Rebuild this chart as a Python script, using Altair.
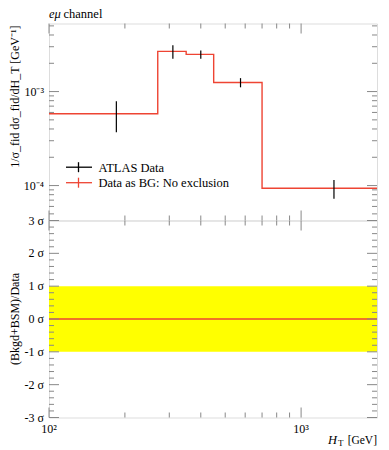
import altair as alt
import pandas as pd

# ---------------- data ----------------
edges = [100, 270, 350, 450, 700, 2000]
centers = [185, 310, 400, 575, 1350]
data_vals = [5.8e-4, 2.68e-3, 2.49e-3, 1.25e-3, 9.36e-5]
data_errs = [2.1e-4, 0.44e-3, 0.25e-3, 0.14e-3, 0.21e-4]
bg_vals = [5.8e-4, 2.68e-3, 2.49e-3, 1.25e-3, 9.36e-5]
ratio_vals = [0, 0, 0, 0, 0]
band_lo = [-1]
band_hi = [1]

x_major = [100, 1000]
x_major_labels = ["10²", "10³"]
x_minor = [200, 300, 400, 500, 600, 700, 800, 900]
ytop_major = [1e-4, 1e-3]
ytop_major_labels = ["10⁻⁴", "10⁻³"]
ytop_minor = [5e-5, 6e-5, 7e-5, 8e-5, 9e-5,
              2e-4, 3e-4, 4e-4, 5e-4, 6e-4, 7e-4, 8e-4, 9e-4,
              2e-3, 3e-3, 4e-3, 5e-3]
ybot_major = [-3, -2, -1, 0, 1, 2, 3]
ybot_major_labels = ["-3 σ", "-2 σ", "-1 σ", "0 σ", "1 σ", "2 σ", "3 σ"]
ybot_minor = [-2.8, -2.6, -2.4, -2.2, -1.8, -1.6, -1.4, -1.2, -0.8, -0.6, -0.4, -0.2,
              0.2, 0.4, 0.6, 0.8, 1.2, 1.4, 1.6, 1.8, 2.2, 2.4, 2.6, 2.8]
legend_labels = ["ATLAS Data", "Data as BG: No exclusion"]
ytop_title = "1/σ_fid dσ_fid/dH_T [GeV⁻¹]"
ybot_title = "(Bkgd+BSM)/Data"

W, H = 328, 197
RED = "#EE4433"
GRAY = "#888888"
FONT = "Liberation Serif"
MINOR, MAJOR = 5, 10

xs = alt.Scale(type="log", domain=[edges[0], edges[-1]], nice=False)
ytop = alt.Scale(type="log", domain=[4.25e-5, 5.3e-3], nice=False)
ybot = alt.Scale(domain=[-3, 3], nice=False, zero=False)


def X(field):
    return alt.X(field, scale=xs, axis=None)


def Y(field, scale):
    return alt.Y(field, scale=scale, axis=None)


def xticks(vals, length):
    df = pd.DataFrame({"t": vals})
    base = alt.Chart(df).mark_rule(color=GRAY, strokeWidth=1)
    return [
        base.encode(x=X("t:Q"), y=alt.value(0), y2=alt.value(length)),
        base.encode(x=X("t:Q"), y=alt.value(H - length), y2=alt.value(H)),
    ]


def yticks(vals, length, scale):
    df = pd.DataFrame({"t": vals})
    base = alt.Chart(df).mark_rule(color=GRAY, strokeWidth=1)
    return [
        base.encode(y=Y("t:Q", scale), x=alt.value(0), x2=alt.value(length)),
        base.encode(y=Y("t:Q", scale), x=alt.value(W - length), x2=alt.value(W)),
    ]


def ylabels(vals, labels, scale):
    df = pd.DataFrame({"t": vals, "lab": labels})
    return alt.Chart(df).mark_text(align="right", baseline="middle", font=FONT,
                                   fontSize=12, color="black").encode(
        y=Y("t:Q", scale), x=alt.value(-5), text="lab:N")


def ytitle(text, y, align):
    return alt.Chart(pd.DataFrame({"t": [text]})).mark_text(
        align=align, baseline="middle", angle=270, font=FONT, fontSize=12, color="black"
    ).encode(x=alt.value(-34), y=alt.value(y), text="t:N")


# ---------------- top panel ----------------
df_step = pd.DataFrame({"x": edges, "v": bg_vals + [bg_vals[-1]]})
df_pts = pd.DataFrame({
    "c": centers,
    "lo": [v - e for v, e in zip(data_vals, data_errs)],
    "hi": [v + e for v, e in zip(data_vals, data_errs)],
})

top_line = alt.Chart(df_step).mark_line(color=RED, strokeWidth=1.4, interpolate="step-after").encode(
    x=X("x:Q"), y=Y("v:Q", ytop))

top_err = alt.Chart(df_pts).mark_rule(color="black", strokeWidth=1.2).encode(
    x=X("c:Q"), y=Y("lo:Q", ytop), y2="hi:Q")

leg_layers = []
for i, (lab, col) in enumerate(zip(legend_labels, ["black", RED])):
    yy = 143.7 + i * 15.5
    df_l = pd.DataFrame({"label": [lab]})
    leg_layers.append(alt.Chart(df_l).mark_rule(color=col, strokeWidth=1.3).encode(
        x=alt.value(17), x2=alt.value(43), y=alt.value(yy)))
    leg_layers.append(alt.Chart(df_l).mark_rule(color=col, strokeWidth=1.3).encode(
        x=alt.value(29.5), y=alt.value(yy - 5), y2=alt.value(yy + 5)))
    leg_layers.append(alt.Chart(df_l).mark_text(align="left", baseline="middle", font=FONT,
                                                fontSize=12.5, color="black").encode(
        x=alt.value(49.5), y=alt.value(yy + 0.5), text="label:N"))

title_a = alt.Chart(pd.DataFrame({"t": ["eμ"]})).mark_text(
    align="left", baseline="alphabetic", font=FONT, fontSize=12.5, fontStyle="italic", color="black"
).encode(x=alt.value(0), y=alt.value(-6), text="t:N")
title_b = alt.Chart(pd.DataFrame({"t": ["channel"]})).mark_text(
    align="left", baseline="alphabetic", font=FONT, fontSize=12.5, color="black"
).encode(x=alt.value(14.5), y=alt.value(-6), text="t:N")

top = alt.layer(
    top_line, top_err,
    *xticks(x_minor, MINOR), *xticks(x_major, MAJOR),
    *yticks(ytop_minor, MINOR, ytop), *yticks(ytop_major, MAJOR, ytop),
    ylabels(ytop_major, ytop_major_labels, ytop),
    ytitle(ytop_title, 2, "right"),
    *leg_layers, title_a, title_b,
).properties(width=W, height=H)

# ---------------- bottom panel ----------------
df_ratio = pd.DataFrame({"x": edges, "r": ratio_vals + [ratio_vals[-1]]})
ratio_line = alt.Chart(df_ratio).mark_line(color=RED, strokeWidth=1.4, interpolate="step-after").encode(
    x=X("x:Q"), y=Y("r:Q", ybot))

df_band = pd.DataFrame({"x": [edges[0]], "x2": [edges[-1]], "lo": band_lo, "hi": band_hi})
band = alt.Chart(df_band).mark_rect(color="#FFFF00").encode(
    x=X("x:Q"), x2="x2:Q", y=Y("lo:Q", ybot), y2="hi:Q")

df_xl = pd.DataFrame({"t": x_major, "lab": x_major_labels})
xlabels = alt.Chart(df_xl).mark_text(align="center", baseline="middle", font=FONT,
                                     fontSize=12, color="black").encode(
    x=X("t:Q"), y=alt.value(H + 11), text="lab:N")

xt_h = alt.Chart(pd.DataFrame({"t": ["H"]})).mark_text(
    align="left", baseline="alphabetic", font=FONT, fontSize=12.5, fontStyle="italic", color="black"
).encode(x=alt.value(279), y=alt.value(H + 26), text="t:N")
xt_t = alt.Chart(pd.DataFrame({"t": ["T"]})).mark_text(
    align="left", baseline="alphabetic", font=FONT, fontSize=9, color="black"
).encode(x=alt.value(289), y=alt.value(H + 28), text="t:N")
xt_g = alt.Chart(pd.DataFrame({"t": ["[GeV]"]})).mark_text(
    align="right", baseline="alphabetic", font=FONT, fontSize=11.5, color="black"
).encode(x=alt.value(W), y=alt.value(H + 26), text="t:N")

bottom = alt.layer(
    band, ratio_line,
    *xticks(x_minor, MINOR), *xticks(x_major, MAJOR),
    *yticks(ybot_minor, MINOR, ybot), *yticks(ybot_major, MAJOR, ybot),
    ylabels(ybot_major, ybot_major_labels, ybot),
    ytitle(ybot_title, H / 2, "center"),
    xlabels, xt_h, xt_t, xt_g,
).properties(width=W, height=H)

chart = alt.vconcat(top, bottom, spacing=0, bounds="flush").properties(
    padding={"left": 0, "top": -1.5, "right": 0, "bottom": 0}
).configure_view(stroke=GRAY, strokeWidth=1).configure(font=FONT)

chart.save("out.html", embed_options={"renderer": "svg", "actions": False})
